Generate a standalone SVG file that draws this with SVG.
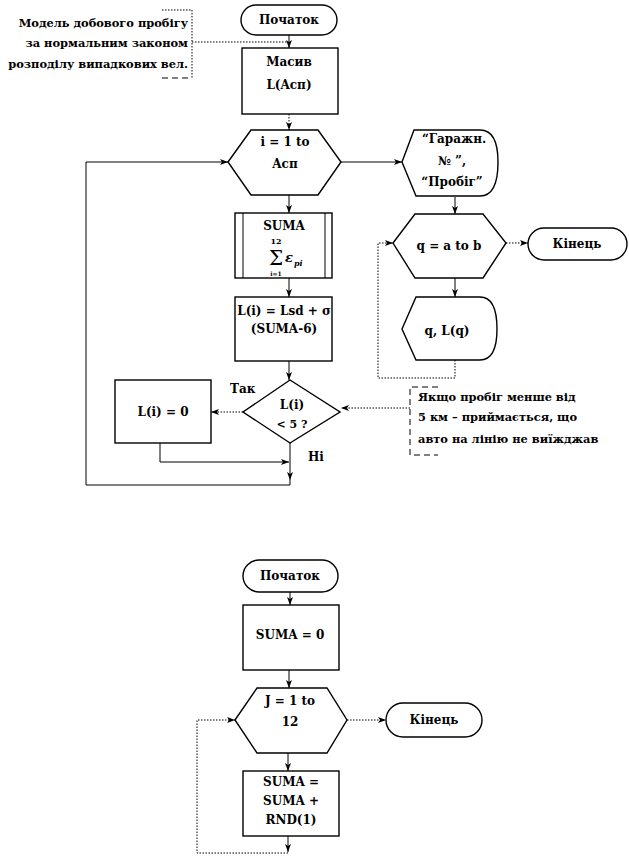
<svg xmlns="http://www.w3.org/2000/svg" width="629" height="857" viewBox="0 0 629 857">
<style>
.s{fill:#fff;stroke:#000;stroke-width:1.4}
.t{font-family:"DejaVu Serif","Liberation Serif",serif;font-weight:bold;font-size:12px;fill:#000;text-anchor:middle}
.a{font-family:"DejaVu Serif","Liberation Serif",serif;font-weight:bold;font-size:12px;fill:#000}
.n{font-size:11.4px}
.c{fill:none;stroke:#000;stroke-width:1}
.d{fill:none;stroke:#000;stroke-width:1;stroke-dasharray:1.5,1.5}
.b{fill:none;stroke:#000;stroke-width:1;stroke-dasharray:6,4}
</style>
<defs>
<marker id="ar" viewBox="0 0 8 6" refX="8" refY="3" markerWidth="8" markerHeight="6" markerUnits="userSpaceOnUse" orient="auto">
<path d="M0,0 L8,3 L0,6 L2,3 Z" fill="#000"/>
</marker>
</defs>
<rect width="629" height="857" fill="#fff"/>

<g id="connectors">
<path class="c" d="M289,35 V48" marker-end="url(#ar)"/>
<path class="d" d="M192,42 H287"/>
<path class="d" d="M289,114 V130" marker-end="url(#ar)"/>
<path class="c" d="M289,195 V213" marker-end="url(#ar)"/>
<path class="c" d="M289,278 V297" marker-end="url(#ar)"/>
<path class="c" d="M289,361 V380" marker-end="url(#ar)"/>
<path class="d" d="M243,412 H211" marker-end="url(#ar)"/>
<path class="c" d="M160,443 V462 H289" marker-end="url(#ar)"/>
<path class="c" d="M290,443 V480" marker-end="url(#ar)"/>
<path class="c" d="M290,480 V485 H86 V162 H228" marker-end="url(#ar)"/>
<path class="c" d="M341,162 H402" marker-end="url(#ar)"/>
<path class="c" d="M455,197 V214" marker-end="url(#ar)"/>
<path class="c" d="M455,278 V297" marker-end="url(#ar)"/>
<path class="d" d="M506,243 H528" marker-end="url(#ar)"/>
<path class="d" d="M455,360 V378 H378 V243 H393" marker-end="url(#ar)"/>
<path class="d" d="M410,408 H341" marker-end="url(#ar)"/>
<path class="c" d="M290,592 V605" marker-end="url(#ar)"/>
<path class="c" d="M289,670 V688" marker-end="url(#ar)"/>
<path class="c" d="M288,753 V771" marker-end="url(#ar)"/>
<path class="c" d="M288,836 V852" marker-end="url(#ar)"/>
<path class="d" d="M288,853 H197 V720 H235" marker-end="url(#ar)"/>
<path class="d" d="M347,720 H386" marker-end="url(#ar)"/>
</g>

<g id="note1">
<path class="d" d="M162,10 H192 V78"/>
<path class="b" d="M162,78 H192"/>
<text class="a n" x="188" y="27" text-anchor="end">Модель добового пробігу</text>
<text class="a n" x="188" y="47" text-anchor="end">за нормальним законом</text>
<text class="a n" x="188" y="68" text-anchor="end">розподілу випадкових вел.</text>
</g>

<g id="start1">
<rect class="s" x="241" y="5" width="96" height="30" rx="15"/>
<text class="t" x="289" y="24">Початок</text>
</g>

<g id="masiv">
<rect class="s" x="242" y="48" width="96" height="66"/>
<text class="t" x="289" y="66">Масив</text>
<text class="t" x="289" y="89">L(Acп)</text>
</g>

<g id="loop_i">
<polygon class="s" points="228,162 251,130 318,130 341,162 318,195 251,195"/>
<text class="t" x="285" y="146">i = 1 to</text>
<text class="t" x="285" y="168">Acп</text>
</g>

<g id="suma_proc">
<rect class="s" x="235" y="213" width="97" height="65"/>
<line class="c" x1="243" y1="213" x2="243" y2="278"/>
<line class="c" x1="325" y1="213" x2="325" y2="278"/>
<text class="t" x="284" y="230">SUMA</text>
<text class="t" x="276" y="244" style="font-size:8px">12</text>
<text class="t" x="276" y="265" style="font-size:20px;font-weight:normal">Σ</text>
<text class="t" x="276" y="276" style="font-size:6px">i=1</text>
<text class="a" x="285" y="262" style="font-style:italic;font-size:13px">ε</text>
<text class="a" x="294" y="266" style="font-style:italic;font-size:8px">pi</text>
</g>

<g id="calc_li">
<rect class="s" x="235" y="297" width="97" height="64"/>
<text class="t" x="284" y="315">L(i) = Lsd + σ</text>
<text class="t" x="284" y="333">(SUMA-6)</text>
</g>

<g id="cond">
<polygon class="s" points="290,380 340,412 290,443 243,412"/>
<text class="t" x="292" y="409">L(i)</text>
<text class="t" x="292" y="428" style="font-size:11px">&lt; 5 ?</text>
<text class="a" x="230" y="393">Так</text>
<text class="a" x="308" y="461">Ні</text>
</g>

<g id="li_zero">
<rect class="s" x="115" y="380" width="96" height="63"/>
<text class="t" x="163" y="416">L(i) = 0</text>
</g>

<g id="out_header">
<path class="s" d="M402,162 L414,130 H480 Q498,130 498,162 Q498,196 480,196 H416 Z"/>
<text class="t" x="454" y="143">“Гаражн.</text>
<text class="t" x="452" y="165">№ ”,</text>
<text class="t" x="452" y="186">“Пробіг”</text>
</g>

<g id="loop_q">
<polygon class="s" points="393,243 415,214 483,214 506,243 483,278 415,278"/>
<text class="t" x="449" y="250">q = a to b</text>
</g>

<g id="end1">
<rect class="s" x="528" y="228" width="99" height="32" rx="16"/>
<text class="t" x="577" y="248">Кінець</text>
</g>

<g id="out_q">
<path class="s" d="M402,329 L416,297 H480 Q497,297 497,329 Q497,360 480,360 H416 Z"/>
<text class="t" x="447" y="335">q, L(q)</text>
</g>

<g id="note2">
<path class="b" d="M438,387 H410 V455 H438"/>
<text class="a n" x="418" y="401">Якщо пробіг менше від</text>
<text class="a n" x="418" y="421">5 км – приймається, що</text>
<text class="a n" x="418" y="443">авто на лінію  не виїжджав</text>
</g>

<g id="start2">
<rect class="s" x="243" y="560" width="95" height="32" rx="16"/>
<text class="t" x="290" y="580">Початок</text>
</g>

<g id="suma_zero">
<rect class="s" x="243" y="605" width="96" height="65"/>
<text class="t" x="290" y="639">SUMA = 0</text>
</g>

<g id="loop_j">
<polygon class="s" points="235,720 257,688 327,688 347,720 327,753 257,753"/>
<text class="t" x="290" y="705">J = 1 to</text>
<text class="t" x="290" y="726">12</text>
</g>

<g id="suma_add">
<rect class="s" x="243" y="771" width="96" height="65"/>
<text class="t" x="291" y="786">SUMA =</text>
<text class="t" x="291" y="805">SUMA +</text>
<text class="t" x="291" y="824">RND(1)</text>
</g>

<g id="end2">
<rect class="s" x="386" y="703" width="96" height="34" rx="17"/>
<text class="t" x="434" y="724">Кінець</text>
</g>
</svg>
